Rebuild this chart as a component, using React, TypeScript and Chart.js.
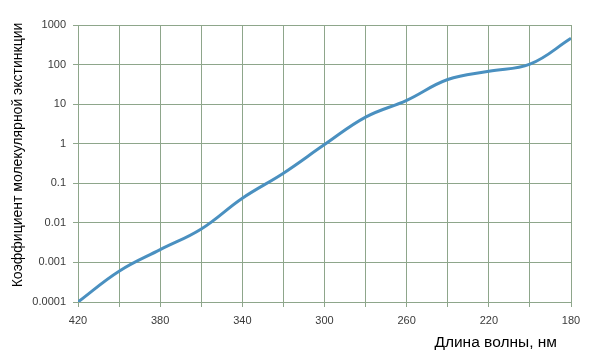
import React, { useEffect, useRef } from "react";
import { Chart, registerables } from "chart.js";

Chart.register(...registerables);

const wavelengths = [420, 400, 380, 360, 340, 320, 300, 280, 260, 240, 220, 200, 180];
const extinction = [0.0001, 0.0006, 0.0021, 0.007, 0.042, 0.18, 0.95, 4.7, 12.5, 42, 68, 102, 460];
const yTicks = [0.0001, 0.001, 0.01, 0.1, 1, 10, 100, 1000];
const yTickLabels = ["0.0001", "0.001", "0.01", "0.1", "1", "10", "100", "1000"];
const xLabelStep = 40;
const xTitle = "Длина волны, нм";
const yTitle = "Коэффициент молекулярной экстинкции";

const FONT = "'Liberation Sans', Arial, sans-serif";
const GRID = "#8ea68b";
const TICK_COLOR = "#3a3a3a";

const titlesPlugin = {
  id: "axisTitles",
  afterDraw(chart: any) {
    const { ctx, chartArea } = chart;
    ctx.save();
    ctx.fillStyle = "#000";
    ctx.textBaseline = "middle";
    // x axis title, right-aligned under the plot
    ctx.font = `15.5px ${FONT}`;
    ctx.textAlign = "right";
    ctx.fillText(xTitle, chartArea.right - 14, chartArea.bottom + 41);
    // y axis title, rotated
    ctx.font = `14px ${FONT}`;
    ctx.textAlign = "center";
    ctx.translate(18.5, chartArea.top + 130);
    ctx.rotate(-Math.PI / 2);
    ctx.fillText(yTitle, 0, 0);
    ctx.restore();
  },
};

export default function App() {
  const ref = useRef<HTMLCanvasElement | null>(null);

  useEffect(() => {
    document.body.style.margin = "0";
    const canvas = ref.current;
    if (!canvas) return;
    const chart = new Chart(canvas, {
      type: "line",
      data: {
        datasets: [
          {
            data: wavelengths.map((w, i) => ({ x: w, y: extinction[i] })),
            borderColor: "#4a90c0",
            borderWidth: 3,
            pointRadius: 0,
            tension: 0.4,
            fill: false,
          },
        ],
      },
      options: {
        animation: false,
        responsive: true,
        maintainAspectRatio: false,
        layout: { padding: { left: 0, right: 29, top: 25, bottom: 0 } },
        plugins: { legend: { display: false }, tooltip: { enabled: false } },
        scales: {
          x: {
            type: "linear",
            reverse: true,
            min: 180,
            max: 420,
            afterFit: (s: any) => {
              s.height = 59;
            },
            ticks: {
              stepSize: 20,
              autoSkip: false,
              maxRotation: 0,
              padding: 7,
              color: TICK_COLOR,
              font: { family: FONT, size: 11 },
              callback: (v: any) => ((420 - Number(v)) % xLabelStep === 0 ? String(v) : ""),
            },
            grid: { color: GRID, tickLength: 5, drawTicks: true },
            border: { color: GRID },
          },
          y: {
            type: "logarithmic",
            min: 0.0001,
            max: 1000,
            afterFit: (s: any) => {
              s.width = 78;
            },
            afterBuildTicks: (s: any) => {
              s.ticks = yTicks.map((v) => ({ value: v }));
            },
            ticks: {
              padding: 7,
              color: TICK_COLOR,
              font: { family: FONT, size: 11 },
              callback: (v: any) => {
                const i = yTicks.findIndex((t) => Math.abs(t - Number(v)) / t < 1e-6);
                return i >= 0 ? yTickLabels[i] : "";
              },
            },
            grid: { color: GRID, tickLength: 5, drawTicks: true },
            border: { color: GRID },
          },
        },
      },
      plugins: [titlesPlugin],
    });
    return () => chart.destroy();
  }, []);

  return (
    <div style={{ position: "relative", width: 600, height: 361, background: "#fff" }}>
      <canvas ref={ref} />
    </div>
  );
}
